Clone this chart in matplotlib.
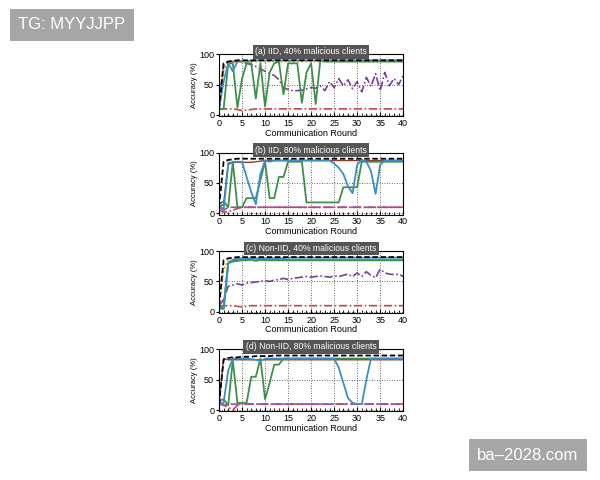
import matplotlib
matplotlib.use("Agg")
import matplotlib.pyplot as plt
from matplotlib.ticker import MultipleLocator

plt.rcParams['font.family'] = ['Liberation Sans', 'DejaVu Sans']

rounds = list(range(41))

# (a) IID, 40% malicious
a_black = [10, 85, 88, 89, 90, 90, 90, 90, 90, 90, 90, 90, 90, 90, 90, 90, 90, 90, 90, 90, 90,
           90, 90, 90, 90, 90, 90, 90, 90, 90, 90, 90, 90, 90, 90, 90, 90, 90, 90, 90, 90]
a_orange = [10, 75, 86, 87, 87, 88, 88, 88, 88, 88, 88, 88, 88, 88, 88, 88, 88, 88, 88, 88, 88,
            88, 88, 88, 88, 88, 88, 88, 88, 88, 88, 88, 88, 88, 88, 88, 88, 88, 88, 88, 88]
a_blue = [10, 55, 85, 72, 88, 89, 89, 89, 90, 90, 90, 90, 90, 90, 90, 90, 90, 90, 90, 90, 90,
          90, 90, 90, 90, 90, 90, 90, 90, 90, 90, 90, 90, 90, 90, 90, 90, 90, 90, 90, 90]
a_green = [10, 10, 85, 85, 12, 60, 85, 85, 27, 85, 14, 70, 85, 88, 34, 85, 85, 85, 20, 70, 85,
           18, 90, 88, 88, 88, 88, 88, 88, 88, 88, 88, 88, 88, 88, 88, 88, 88, 88, 88, 88]
a_purple = [20, 80, 88, 88, 88, 87, 85, 83, 80, 76, 72, 68, 65, 58, 45, 42, 40, 40, 41, 43, 45,
            44, 48, 40, 55, 45, 60, 48, 58, 43, 55, 38, 62, 47, 68, 40, 70, 48, 60, 50, 65]
a_red = [10, 10, 10, 10, 9, 7, 8, 9, 10, 10, 10, 10, 10, 10, 10, 10, 10, 10, 10, 10, 10,
         10, 10, 10, 10, 10, 10, 10, 10, 10, 10, 10, 10, 10, 10, 10, 10, 10, 10, 10, 10]

# (b) IID, 80% malicious
b_black = [10, 85, 88, 89, 90, 90, 90, 90, 90, 90, 90, 90, 90, 90, 90, 90, 90, 90, 90, 90, 90,
           90, 90, 90, 90, 90, 90, 90, 90, 90, 90, 90, 90, 90, 90, 90, 90, 90, 90, 90, 90]
b_brown = [10, 15, 83, 84, 84, 84, 84, 84, 85, 86, 87, 87, 87, 87, 87, 87, 87, 87, 87, 87, 87,
           87, 87, 87, 87, 87, 87, 87, 87, 87, 87, 87, 87, 87, 87, 87, 87, 87, 87, 87, 87]
b_blue = [15, 5, 80, 85, 85, 85, 60, 35, 15, 65, 87, 85, 87, 87, 87, 87, 87, 87, 87, 87, 87,
          87, 87, 87, 87, 82, 75, 65, 45, 33, 80, 88, 85, 70, 32, 80, 87, 87, 87, 87, 87]
b_green = [15, 20, 10, 85, 10, 10, 25, 25, 25, 55, 85, 25, 25, 60, 60, 85, 85, 85, 85, 18, 18,
           18, 18, 18, 18, 18, 18, 43, 43, 43, 43, 85, 85, 85, 85, 85, 85, 85, 85, 85, 85]
b_purple = [10, 5, 10, 10, 10, 10, 10, 10, 10, 10, 10, 10, 10, 10, 10, 10, 10, 10, 10, 10, 10,
            10, 10, 10, 10, 10, 10, 10, 10, 10, 10, 10, 10, 10, 10, 10, 10, 10, 10, 10, 10]
b_red = [5, 2, 3, 5, 8, 10, 10, 10, 10, 10, 10, 10, 10, 10, 10, 10, 10, 10, 10, 10, 10,
         10, 10, 10, 10, 10, 10, 10, 10, 10, 10, 10, 10, 10, 10, 10, 10, 10, 10, 10, 10]

# (c) Non-IID, 40% malicious
c_black = [10, 85, 88, 89, 90, 90, 90, 90, 90, 90, 90, 90, 90, 90, 90, 90, 90, 90, 90, 90, 90,
           90, 90, 90, 90, 90, 90, 90, 90, 90, 90, 90, 90, 90, 90, 90, 90, 90, 90, 90, 90]
c_orange = [10, 70, 84, 85, 85, 85, 85, 85, 85, 85, 85, 85, 85, 85, 85, 85, 85, 85, 85, 85, 85,
            85, 85, 85, 85, 85, 85, 85, 85, 85, 85, 85, 85, 85, 85, 85, 85, 85, 85, 85, 85]
c_blue = [5, 5, 80, 86, 87, 88, 88, 88, 88, 88, 88, 88, 88, 88, 88, 89, 89, 89, 89, 89, 89,
          89, 89, 89, 89, 89, 89, 89, 89, 89, 89, 89, 89, 89, 89, 89, 89, 89, 89, 89, 89]
c_green = [10, 5, 80, 83, 84, 85, 85, 86, 84, 86, 85, 85, 85, 85, 85, 85, 85, 85, 85, 85, 85,
           85, 85, 85, 85, 85, 85, 85, 85, 85, 85, 85, 85, 85, 85, 85, 85, 85, 85, 85, 85]
c_purple = [10, 20, 42, 44, 46, 44, 47, 48, 49, 50, 51, 50, 52, 53, 55, 53, 55, 56, 57, 58, 57,
            58, 59, 58, 57, 59, 58, 60, 62, 58, 64, 58, 66, 60, 56, 70, 64, 62, 61, 62, 58]
c_red = [10, 10, 10, 10, 9, 8, 9, 10, 10, 10, 10, 10, 10, 10, 10, 10, 10, 10, 10, 10, 10,
         10, 10, 10, 10, 10, 10, 10, 10, 10, 10, 10, 10, 10, 10, 10, 10, 10, 10, 10, 10]

# (d) Non-IID, 80% malicious
d_black = [10, 83, 86, 87, 87, 88, 88, 88, 89, 89, 89, 89, 90, 90, 90, 90, 90, 90, 90, 90, 90,
           90, 90, 90, 90, 90, 90, 90, 90, 90, 90, 90, 90, 90, 90, 90, 90, 90, 90, 90, 90]
d_brown = [10, 85, 83, 83, 83, 83, 83, 83, 83, 83, 83, 83, 83, 83, 83, 83, 83, 83, 83, 83, 83,
           83, 83, 83, 83, 83, 83, 83, 83, 83, 83, 83, 83, 83, 83, 83, 83, 83, 83, 83, 83]
d_blue = [10, 12, 65, 85, 85, 85, 85, 84, 83, 81, 85, 85, 85, 85, 85, 85, 85, 85, 85, 85, 85,
          85, 85, 85, 85, 85, 70, 45, 20, 12, 10, 10, 50, 85, 85, 85, 85, 85, 85, 85, 85]
d_green = [15, 18, 8, 82, 12, 12, 12, 55, 55, 85, 18, 45, 75, 75, 85, 85, 85, 85, 85, 85, 85,
           85, 85, 85, 85, 85, 85, 85, 85, 85, 85, 85, 85, 85, 85, 85, 85, 85, 85, 85, 85]
d_purple = [15, 8, 10, 10, 10, 10, 10, 10, 10, 10, 10, 10, 10, 10, 10, 10, 10, 10, 10, 10, 10,
            10, 10, 10, 10, 10, 10, 10, 10, 10, 10, 10, 10, 10, 10, 10, 10, 10, 10, 10, 10]
d_red = [10, 8, 5, 0, 8, 10, 10, 10, 10, 10, 10, 10, 10, 10, 10, 10, 10, 10, 10, 10, 10,
         10, 10, 10, 10, 10, 10, 10, 10, 10, 10, 10, 10, 10, 10, 10, 10, 10, 10, 10, 10]

titles = ['(a) IID, 40% malicious clients', '(b) IID, 80% malicious clients',
          '(c) Non-IID, 40% malicious clients', '(d) Non-IID, 80% malicious clients']

RED = '#c9463d'
PURPLE = '#7d3c98'
MAGENTA = '#a24aa8'
ORANGE = '#e6a532'
BROWN = '#8b3a2f'
GREEN = '#3f8f4a'
BLUE = '#3a8fc7'
DASHDOT = (0, (5, 1.5, 1, 1.5))

panels = [
    [(a_red, RED, DASHDOT, 1.2), (a_purple, PURPLE, DASHDOT, 1.2),
     (a_orange, ORANGE, (0, (1, 1)), 1.5), (a_green, GREEN, '-', 1.3),
     (a_blue, BLUE, '-', 1.3), (a_black, 'black', (0, (3, 1.5)), 1.3)],
    [(b_red, RED, DASHDOT, 1.2), (b_purple, MAGENTA, (0, (6, 2)), 1.2),
     (b_brown, BROWN, '-', 1.0), (b_green, GREEN, '-', 1.3),
     (b_blue, BLUE, '-', 1.3), (b_black, 'black', (0, (3, 1.5)), 1.3)],
    [(c_red, RED, DASHDOT, 1.2), (c_purple, PURPLE, DASHDOT, 1.2),
     (c_orange, ORANGE, (0, (1, 1)), 1.5), (c_green, GREEN, '-', 1.5),
     (c_blue, BLUE, '-', 1.3), (c_black, 'black', (0, (3, 1.5)), 1.3)],
    [(d_red, RED, DASHDOT, 1.2), (d_purple, MAGENTA, (0, (6, 2)), 1.2),
     (d_brown, BROWN, '-', 1.0), (d_green, GREEN, '-', 1.3),
     (d_blue, BLUE, '-', 1.3), (d_black, 'black', (0, (3, 1.5)), 1.3)],
]

fig = plt.figure(figsize=(6, 4.8), dpi=100)
bottoms = [0.758, 0.553, 0.348, 0.143]

for bottom, title, lines in zip(bottoms, titles, panels):
    ax = fig.add_axes([0.365, bottom, 0.307, 0.129])
    for vals, col, ls, lw in lines:
        ax.plot(rounds, vals, color=col, linestyle=ls, linewidth=lw)
    ax.set_xlim(0, 40)
    ax.set_ylim(-2, 100)
    ax.xaxis.set_major_locator(MultipleLocator(5))
    ax.xaxis.set_minor_locator(MultipleLocator(1))
    ax.set_yticks([0, 50, 100])
    ax.grid(True, which='major', linestyle=(0, (1, 2)), color='#333333', linewidth=0.6)
    ax.tick_params(axis='x', which='major', direction='in', length=3, labelsize=6.5, pad=2)
    ax.tick_params(axis='x', which='minor', direction='in', length=2)
    ax.tick_params(axis='y', direction='out', length=2.5, labelsize=6.5, pad=1)
    ax.set_xlabel('Communication Round', fontsize=6.5, labelpad=0.5)
    ax.set_ylabel('Accuracy (%)', fontsize=5.5, labelpad=1)
    for sp in ax.spines.values():
        sp.set_linewidth(0.8)
    ax.text(0.5, 1.04, title, transform=ax.transAxes, ha='center', va='center',
            fontsize=6.2, color='white',
            bbox=dict(facecolor='#555555', edgecolor='none', pad=1.6))

fig.text(0.12, 0.948, 'TG: MYYJJPP', ha='center', va='center', fontsize=12, color='white',
         bbox=dict(facecolor='#a6a6a6', edgecolor='none', pad=6))
fig.text(0.88, 0.052, 'ba\u20132028.com', ha='center', va='center', fontsize=12, color='white',
         bbox=dict(facecolor='#a6a6a6', edgecolor='none', pad=6))

fig.savefig('out.png', dpi=100)
